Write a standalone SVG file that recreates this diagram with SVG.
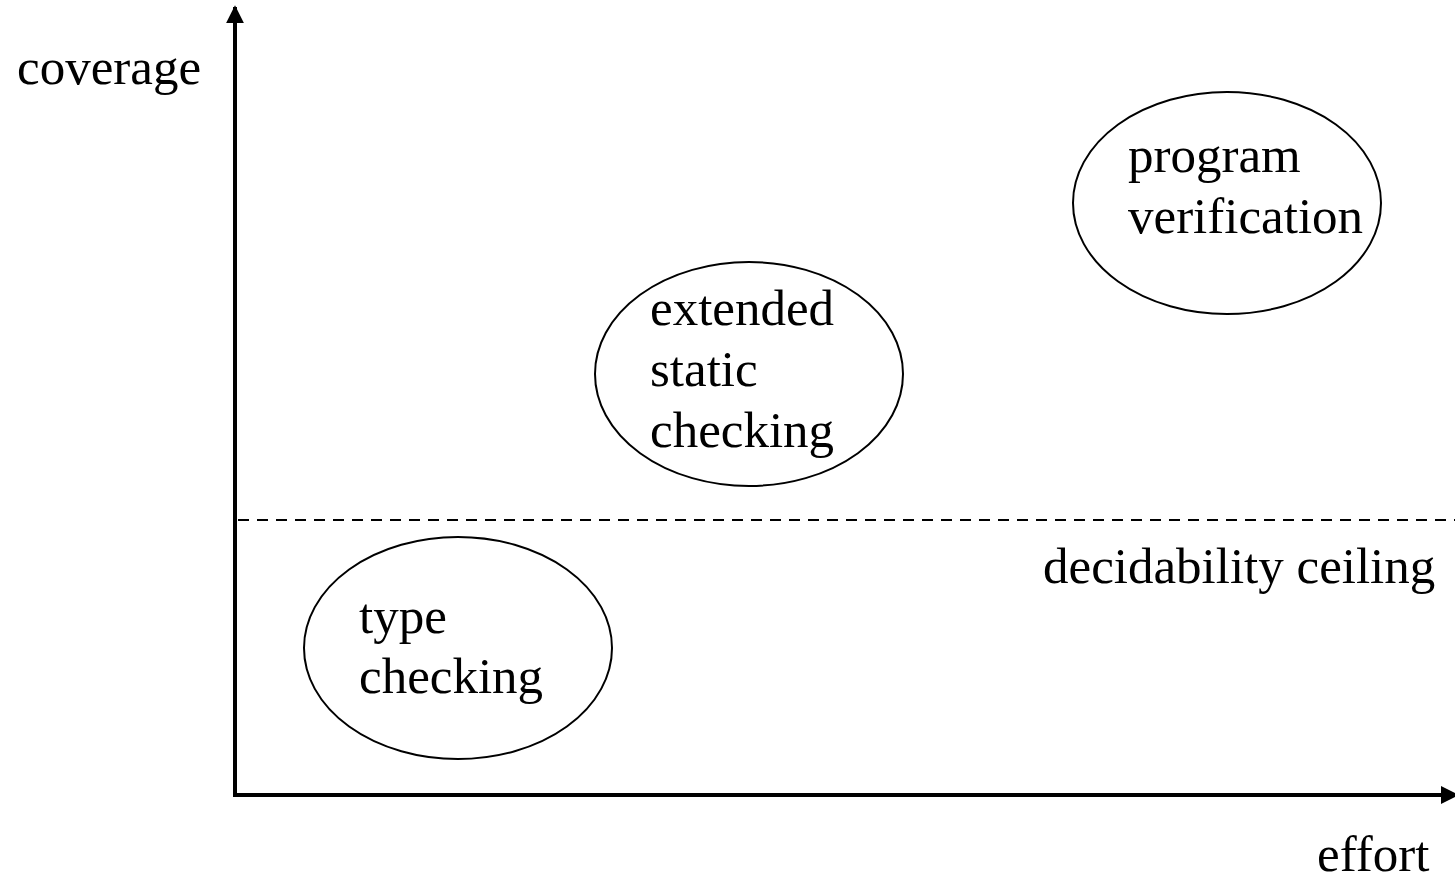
<svg xmlns="http://www.w3.org/2000/svg" width="1455" height="880" viewBox="0 0 1455 880">
  <style>
    .lbl { font-family: "Liberation Serif", "Times New Roman", serif; font-size: 51px; fill: #000; }
    .node ellipse { fill: none; stroke: #000; stroke-width: 2; }
    .axis { stroke: #000; stroke-width: 4; fill: none; }
    .ceiling { stroke: #000; stroke-width: 2; stroke-dasharray: 11 8; fill: none; }
  </style>
  <defs>
    <marker id="arrow" viewBox="0 0 10 10" refX="9" refY="5" markerWidth="4.5" markerHeight="4.5" orient="auto" markerUnits="strokeWidth">
      <path d="M0,0 L10,5 L0,10 z" fill="#000"/>
    </marker>
  </defs>
  <rect width="1455" height="880" fill="#fff"/>

  <!-- axes and ceiling line -->
  <g id="connectors">
    <line class="axis" x1="235" y1="797" x2="235" y2="7" marker-end="url(#arrow)"/>
    <line class="axis" x1="233" y1="795" x2="1457" y2="795" marker-end="url(#arrow)"/>
    <line class="ceiling" x1="238" y1="520" x2="1455" y2="520"/>
  </g>

  <!-- axis labels -->
  <g id="labels">
    <text class="lbl" x="17" y="84">coverage</text>
    <text class="lbl" x="1317" y="871">effort</text>
    <text class="lbl" x="1043" y="583">decidability ceiling</text>
  </g>

  <g id="type-checking" class="node">
    <ellipse cx="458" cy="648" rx="154" ry="111"/>
    <text class="lbl" x="359" y="633">type</text>
    <text class="lbl" x="359" y="693">checking</text>
  </g>

  <g id="extended-static-checking" class="node">
    <ellipse cx="749" cy="374" rx="154" ry="112"/>
    <text class="lbl" x="650" y="325">extended</text>
    <text class="lbl" x="650" y="386">static</text>
    <text class="lbl" x="650" y="447">checking</text>
  </g>

  <g id="program-verification" class="node">
    <ellipse cx="1227" cy="203" rx="154" ry="111"/>
    <text class="lbl" x="1128" y="172">program</text>
    <text class="lbl" x="1128" y="233">verification</text>
  </g>
</svg>
